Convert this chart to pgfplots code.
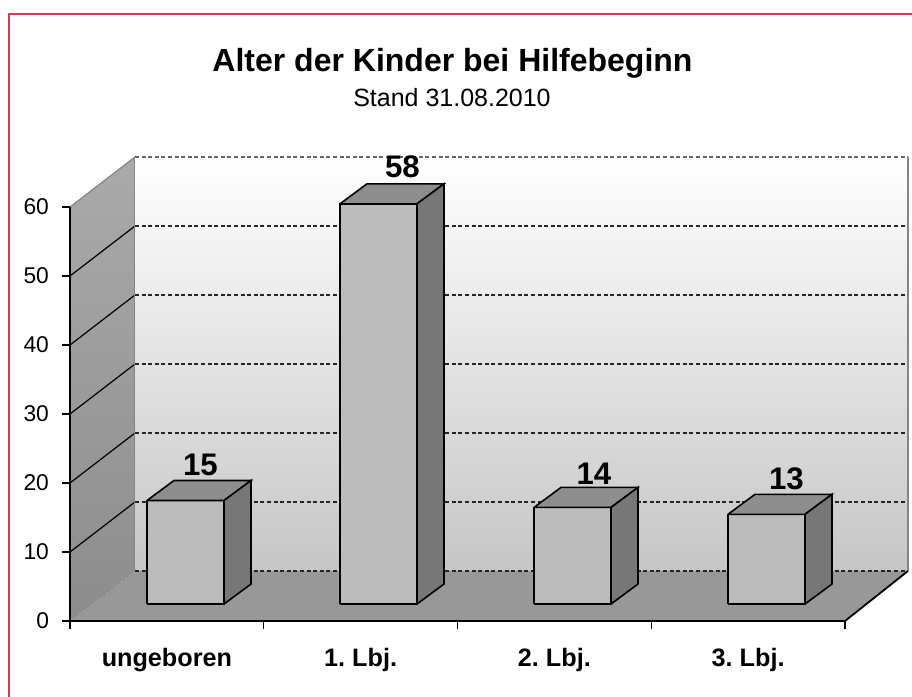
\documentclass[border=0pt]{standalone}
\usepackage{pgfplots}
\pgfplotsset{compat=1.18}
\usepackage{fontspec}
\setmainfont{Liberation Sans}
\frenchspacing
\definecolor{framecol}{HTML}{D0405C}
\definecolor{backbot}{HTML}{C6C6C6}
\definecolor{lefttop}{HTML}{AAAAAA}
\definecolor{leftbot}{HTML}{8C8C8C}
\definecolor{floorcol}{HTML}{989898}
\definecolor{frontcol}{HTML}{BCBCBC}
\definecolor{topcol}{HTML}{8E8E8E}
\definecolor{sidecol}{HTML}{777777}
\definecolor{edgecol}{HTML}{858585}
\begin{document}
\begin{tikzpicture}[x=0.5pt,y=0.5pt]
\useasboundingbox (0,0) rectangle (912,697);
\draw[framecol, line width=1pt] (9,0) -- (9,683) -- (912,683);
\node[anchor=base, font=\bfseries\fontsize{16}{18}\selectfont] at (452.5,625) {Alter der Kinder bei Hilfebeginn};
\node[anchor=base, font=\fontsize{12.5}{15}\selectfont] at (452,590) {Stand 31.08.2010};
\begin{axis}[
  at={(35pt,38pt)}, anchor=south west,
  scale only axis, width=419pt, height=232pt,
  xmin=0, xmax=838, ymin=0, ymax=67.25,
  clip=false,
  axis x line*=bottom, axis y line*=left,
  axis line style={draw=none},
  tick align=outside, major tick length=4pt,
  tick style={black, line width=0.6pt},
  xtick={0,193.75,387.5,581.25,775},
  xticklabels={},
  ytick={0,10,20,30,40,50,60},
  /pgf/number format/assume math mode=true,
  yticklabel style={font=\fontsize{11.4}{13}\selectfont, xshift=-3pt},
  extra x ticks={96.875,290.625,484.375,678.125},
  extra x tick labels={ungeboren,1. Lbj.,2. Lbj.,3. Lbj.},
  extra x tick style={major tick length=0pt, tick label style={font=\bfseries\fontsize{12.6}{14}\selectfont, yshift=-10pt}},
  no markers,
]
% back wall
\addplot[draw=none, top color=white, bottom color=backbot] coordinates {(65,7.25) (838,7.25) (838,67.25) (65,67.25) (65,7.25)};
% left wall
\addplot[draw=none, top color=lefttop, bottom color=leftbot] coordinates {(0,0) (65,7.25) (65,67.25) (0,60) (0,0)};
% floor
\addplot[draw=none, fill=floorcol] coordinates {(0,0) (775,0) (838,7.25) (65,7.25) (0,0)};
% back wall gridlines
\addplot[black!85, line width=0.6pt, dash pattern=on 2pt off 1.3pt] coordinates {(65,7.25) (838,7.25)};
\addplot[black!85, line width=0.6pt, dash pattern=on 2pt off 1.3pt] coordinates {(65,17.25) (838,17.25)};
\addplot[black!85, line width=0.6pt, dash pattern=on 2pt off 1.3pt] coordinates {(65,27.25) (838,27.25)};
\addplot[black!85, line width=0.6pt, dash pattern=on 2pt off 1.3pt] coordinates {(65,37.25) (838,37.25)};
\addplot[black!85, line width=0.6pt, dash pattern=on 2pt off 1.3pt] coordinates {(65,47.25) (838,47.25)};
\addplot[black!85, line width=0.6pt, dash pattern=on 2pt off 1.3pt] coordinates {(65,57.25) (838,57.25)};
\addplot[black!60, line width=0.6pt, dash pattern=on 2pt off 1.3pt] coordinates {(65,67.25) (838,67.25)};
% left wall gridlines
\addplot[black, line width=0.6pt] coordinates {(0,10) (65,17.25)};
\addplot[black, line width=0.6pt] coordinates {(0,20) (65,27.25)};
\addplot[black, line width=0.6pt] coordinates {(0,30) (65,37.25)};
\addplot[black, line width=0.6pt] coordinates {(0,40) (65,47.25)};
\addplot[black, line width=0.6pt] coordinates {(0,50) (65,57.25)};
\addplot[edgecol, line width=0.6pt] coordinates {(0,60) (65,67.25)};
\addplot[black!55, line width=0.4pt, dotted] coordinates {(0,0) (65,7.25)};
% wall edges
\addplot[edgecol, line width=0.5pt] coordinates {(65,7.25) (65,67.25)};
\addplot[edgecol, line width=1pt] coordinates {(838,7.25) (838,67.25)};
% floor edges and y axis
\addplot[black, line width=0.9pt] coordinates {(0,0) (775,0) (838,7.25)};
\addplot[black, line width=0.7pt] coordinates {(0,0) (0,60)};
% bar 1: ungeboren = 15
\addplot[draw=black, line width=0.8pt, fill=frontcol] coordinates {(77,2.46) (154,2.46) (154,17.46) (77,17.46) (77,2.46)};
\addplot[draw=black, line width=0.8pt, fill=topcol] coordinates {(77,17.46) (154,17.46) (181,20.36) (104,20.36) (77,17.46)};
\addplot[draw=black, line width=0.8pt, fill=sidecol] coordinates {(154,2.46) (181,5.36) (181,20.36) (154,17.46) (154,2.46)};
% bar 2: 1. Lbj. = 58
\addplot[draw=black, line width=0.8pt, fill=frontcol] coordinates {(270,2.46) (347,2.46) (347,60.46) (270,60.46) (270,2.46)};
\addplot[draw=black, line width=0.8pt, fill=topcol] coordinates {(270,60.46) (347,60.46) (374,63.36) (297,63.36) (270,60.46)};
\addplot[draw=black, line width=0.8pt, fill=sidecol] coordinates {(347,2.46) (374,5.36) (374,63.36) (347,60.46) (347,2.46)};
% bar 3: 2. Lbj. = 14
\addplot[draw=black, line width=0.8pt, fill=frontcol] coordinates {(464,2.46) (541,2.46) (541,16.46) (464,16.46) (464,2.46)};
\addplot[draw=black, line width=0.8pt, fill=topcol] coordinates {(464,16.46) (541,16.46) (568,19.36) (491,19.36) (464,16.46)};
\addplot[draw=black, line width=0.8pt, fill=sidecol] coordinates {(541,2.46) (568,5.36) (568,19.36) (541,16.46) (541,2.46)};
% bar 4: 3. Lbj. = 13
\addplot[draw=black, line width=0.8pt, fill=frontcol] coordinates {(658,2.46) (735,2.46) (735,15.46) (658,15.46) (658,2.46)};
\addplot[draw=black, line width=0.8pt, fill=topcol] coordinates {(658,15.46) (735,15.46) (762,18.36) (685,18.36) (658,15.46)};
\addplot[draw=black, line width=0.8pt, fill=sidecol] coordinates {(735,2.46) (762,5.36) (762,18.36) (735,15.46) (735,2.46)};
% value labels
\addplot[draw=none, point meta=explicit symbolic, nodes near coords, nodes near coords align=center,
  every node near coord/.append style={font=\bfseries\fontsize{15.6}{18}\selectfont, anchor=center, inner sep=0pt}]
  coordinates {(130.5,22.68)[15] (332.5,65.87)[58] (524,21.38)[14] (716.5,20.58)[13]};
\end{axis}
\end{tikzpicture}
\end{document}
